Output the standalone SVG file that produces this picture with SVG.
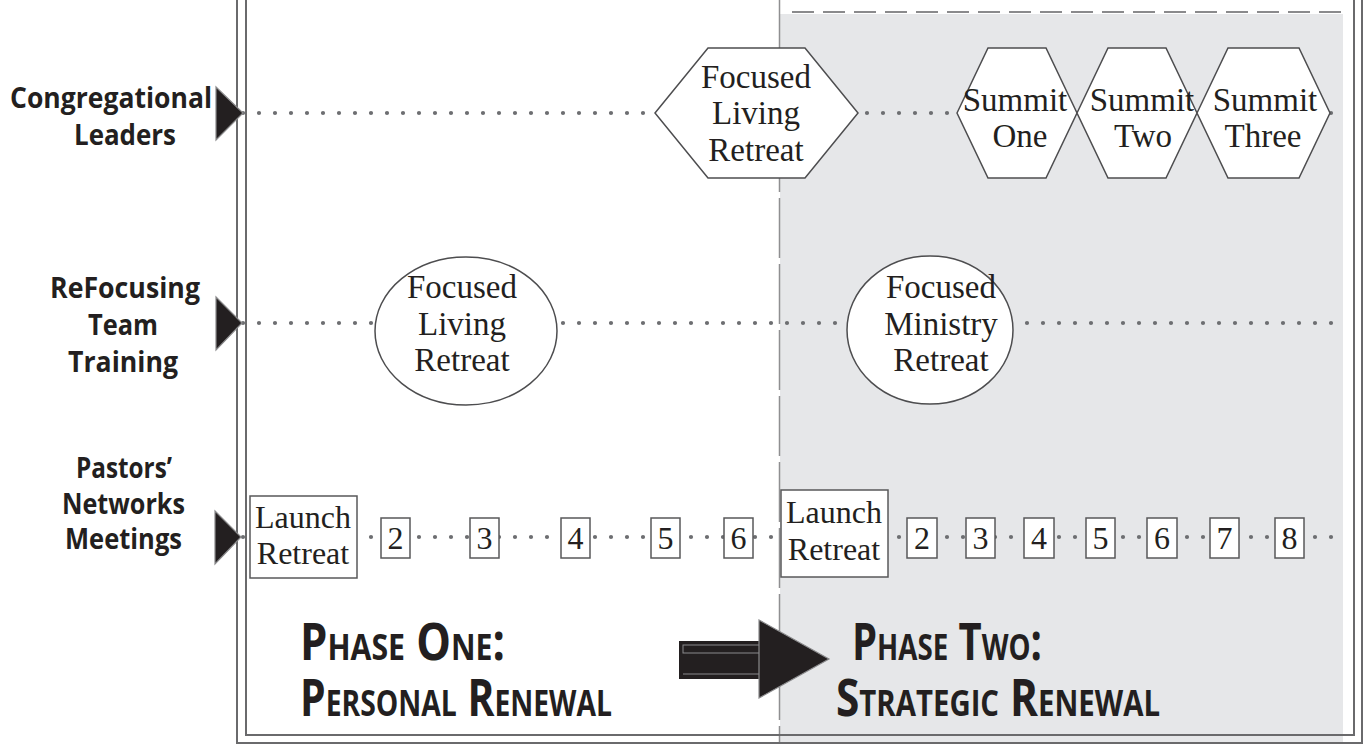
<svg xmlns="http://www.w3.org/2000/svg" width="1364" height="744" viewBox="0 0 1364 744">
<style>
.lbl{font-family:"Open Sans","Noto Sans",sans-serif;font-weight:700;font-size:29px;fill:#231f20}
.ser{font-family:"Liberation Serif","Times New Roman",serif;font-size:33px;fill:#231f20;text-anchor:middle}
.num{font-family:"Liberation Serif","Times New Roman",serif;font-size:32px;fill:#231f20;text-anchor:middle}
.shape{fill:#fff;stroke:#4d4d4f;stroke-width:1.5}
.box{fill:#fff;stroke:#58585a;stroke-width:1.5}
.dots{stroke:#6d6e71;stroke-width:4.2;stroke-linecap:round;stroke-dasharray:0 16;fill:none}
.tri{fill:#231f20;stroke:#8a8a8c;stroke-width:1.2}
.phase{font-family:"Open Sans","Noto Sans",sans-serif;font-weight:700;font-size:52px;font-variant:small-caps;fill:#231f20}
.frame{fill:none;stroke:#6a6a6c;stroke-width:2}
</style>
<rect x="0" y="0" width="1364" height="744" fill="#fff"/>
<g id="phase-two-area">
<rect x="780" y="14" width="563" height="730" fill="#e6e7e9"/>
<line x1="792" y1="12" x2="1343" y2="12" stroke="#8a8a8c" stroke-width="2" stroke-dasharray="22 9"/>
<line x1="779.5" y1="0" x2="779.5" y2="744" stroke="#8f8f91" stroke-width="1.5" stroke-dasharray="60 6"/>
</g>
<g id="frame">
<polyline class="frame" points="237,0 237,743 1362,743 1362,0"/>
<polyline class="frame" points="246,0 246,735 1354,735 1354,0"/>
</g>
<g id="connectors">
<line class="dots" x1="243" y1="113" x2="1345" y2="113"/>
<line class="dots" x1="243" y1="323" x2="1345" y2="323"/>
<line class="dots" x1="243" y1="537" x2="1345" y2="537"/>
</g>
<g id="row-labels">
<g id="label-congregational">
<text class="lbl" x="10" y="108" textLength="202" lengthAdjust="spacingAndGlyphs">Congregational</text>
<text class="lbl" x="74" y="145" textLength="102" lengthAdjust="spacingAndGlyphs">Leaders</text>
<polygon class="tri" points="216,87 243,113 216,140"/>
</g>
<g id="label-refocusing">
<text class="lbl" x="50" y="298" textLength="150" lengthAdjust="spacingAndGlyphs">ReFocusing</text>
<text class="lbl" x="88" y="335" textLength="70" lengthAdjust="spacingAndGlyphs">Team</text>
<text class="lbl" x="68" y="372" textLength="110" lengthAdjust="spacingAndGlyphs">Training</text>
<polygon class="tri" points="216,297 242,323 216,350"/>
</g>
<g id="label-pastors">
<text class="lbl" x="76" y="478" textLength="96" lengthAdjust="spacingAndGlyphs">Pastors’</text>
<text class="lbl" x="62" y="514" textLength="123" lengthAdjust="spacingAndGlyphs">Networks</text>
<text class="lbl" x="65" y="549" textLength="117" lengthAdjust="spacingAndGlyphs">Meetings</text>
<polygon class="tri" points="215,511 241,537 215,564"/>
</g>
</g>
<g id="hex-flr">
<polygon class="shape" points="655,113 708,48 805,48 858,113 805,178 708,178"/>
<text class="ser" x="756" y="88">Focused</text>
<text class="ser" x="756" y="124">Living</text>
<text class="ser" x="756" y="161">Retreat</text>
</g>
<g id="hex-summit-one">
<polygon class="shape" points="957,113 988,48 1046,48 1077,113 1046,178 988,178"/>
<text class="ser" x="1015" y="111">Summit</text>
<text class="ser" x="1020" y="147">One</text>
</g>
<g id="hex-summit-two">
<polygon class="shape" points="1077,113 1108,48 1166,48 1197,113 1166,178 1108,178"/>
<text class="ser" x="1142" y="111">Summit</text>
<text class="ser" x="1143" y="147">Two</text>
</g>
<g id="hex-summit-three">
<polygon class="shape" points="1197,113 1228,48 1299,48 1330,113 1299,178 1228,178"/>
<text class="ser" x="1265" y="111">Summit</text>
<text class="ser" x="1263" y="147">Three</text>
</g>
<g id="ellipse-flr">
<ellipse class="shape" cx="466" cy="331" rx="91" ry="74"/>
<text class="ser" x="462" y="298">Focused</text>
<text class="ser" x="462" y="335">Living</text>
<text class="ser" x="462" y="371">Retreat</text>
</g>
<g id="ellipse-fmr">
<ellipse class="shape" cx="930" cy="330" rx="83" ry="74"/>
<text class="ser" x="941" y="298">Focused</text>
<text class="ser" x="941" y="335">Ministry</text>
<text class="ser" x="941" y="371">Retreat</text>
</g>
<g id="launch-1">
<rect class="box" x="250" y="496" width="107" height="82"/>
<text class="num" x="303" y="528">Launch</text>
<text class="num" x="303" y="564">Retreat</text>
</g>
<g id="m1-2"><rect class="box" x="381" y="518" width="29" height="40"/><text class="num" x="395.5" y="549">2</text></g>
<g id="m1-3"><rect class="box" x="470" y="518" width="29" height="40"/><text class="num" x="484.5" y="549">3</text></g>
<g id="m1-4"><rect class="box" x="561" y="518" width="29" height="40"/><text class="num" x="575.5" y="549">4</text></g>
<g id="m1-5"><rect class="box" x="651" y="518" width="29" height="40"/><text class="num" x="665.5" y="549">5</text></g>
<g id="m1-6"><rect class="box" x="724" y="518" width="29" height="40"/><text class="num" x="738.5" y="549">6</text></g>
<g id="launch-2">
<rect class="box" x="781" y="490" width="107" height="87"/>
<text class="num" x="834" y="523">Launch</text>
<text class="num" x="834" y="560">Retreat</text>
</g>
<g id="m2-2"><rect class="box" x="907" y="518" width="30" height="40"/><text class="num" x="922" y="549">2</text></g>
<g id="m2-3"><rect class="box" x="966" y="518" width="29" height="40"/><text class="num" x="980.5" y="549">3</text></g>
<g id="m2-4"><rect class="box" x="1024" y="518" width="30" height="40"/><text class="num" x="1039" y="549">4</text></g>
<g id="m2-5"><rect class="box" x="1086" y="518" width="29" height="40"/><text class="num" x="1100.5" y="549">5</text></g>
<g id="m2-6"><rect class="box" x="1147" y="518" width="30" height="40"/><text class="num" x="1162" y="549">6</text></g>
<g id="m2-7"><rect class="box" x="1210" y="518" width="29" height="40"/><text class="num" x="1224.5" y="549">7</text></g>
<g id="m2-8"><rect class="box" x="1275" y="518" width="29" height="40"/><text class="num" x="1289.5" y="549">8</text></g>
<g id="phase-one">
<text class="phase" x="300" y="660" textLength="205" lengthAdjust="spacingAndGlyphs">Phase One:</text>
<text class="phase" x="300" y="716" textLength="312" lengthAdjust="spacingAndGlyphs">Personal Renewal</text>
</g>
<g id="phase-arrow">
<rect x="679" y="641" width="90" height="38" fill="#231f20"/>
<rect x="683" y="645" width="82" height="8" fill="none" stroke="#8a8a8c" stroke-width="1"/>
<line x1="683" y1="674" x2="765" y2="674" stroke="#8a8a8c" stroke-width="1"/>
<polygon class="tri" points="759,620 829,659 759,698"/>
</g>
<g id="phase-two">
<text class="phase" x="852" y="660" textLength="190" lengthAdjust="spacingAndGlyphs">Phase Two:</text>
<text class="phase" x="836" y="716" textLength="324" lengthAdjust="spacingAndGlyphs">Strategic Renewal</text>
</g>
</svg>
